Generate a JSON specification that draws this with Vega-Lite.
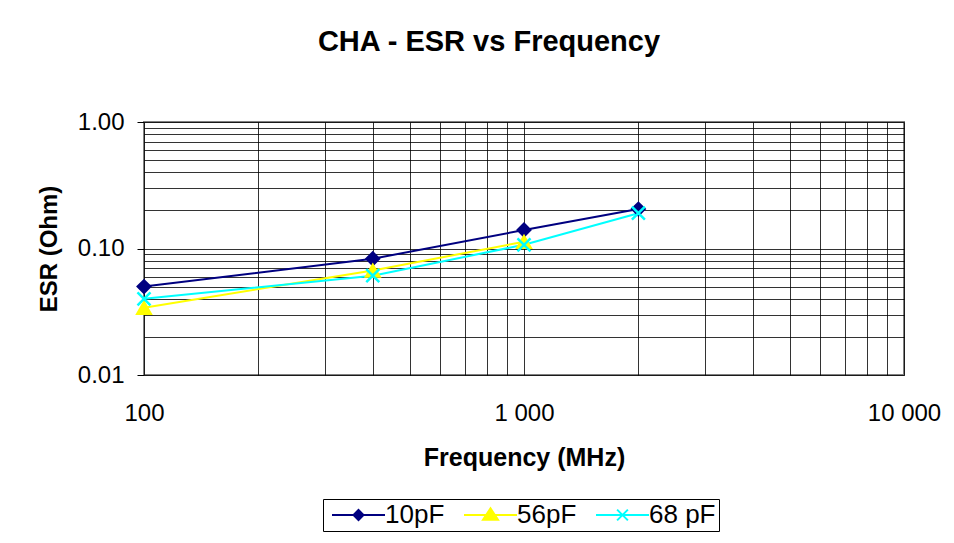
{
  "$schema": "https://vega.github.io/schema/vega-lite/v6.json",
  "width": 760,
  "height": 253,
  "autosize": {"type": "none"},
  "padding": {"left": 144, "top": 122, "right": 50, "bottom": 168},
  "background": "white",
  "config": {"font": "Liberation Sans", "view": {"stroke": "#808080", "strokeWidth": 2}},
  "title": {"text": "CHA - ESR vs Frequency", "fontSize": 29, "fontWeight": "bold", "font": "Liberation Sans", "color": "black", "anchor": "middle", "frame": "group", "baseline": "alphabetic", "offset": 30, "dx": -35},
  "data": {"values": [
    {"series": "10pF", "freq": 100, "esr": 0.050},
    {"series": "10pF", "freq": 400, "esr": 0.083},
    {"series": "10pF", "freq": 1000, "esr": 0.140},
    {"series": "10pF", "freq": 2000, "esr": 0.205},
    {"series": "56pF", "freq": 100, "esr": 0.034},
    {"series": "56pF", "freq": 400, "esr": 0.067},
    {"series": "56pF", "freq": 1000, "esr": 0.113},
    {"series": "68 pF", "freq": 100, "esr": 0.040},
    {"series": "68 pF", "freq": 400, "esr": 0.061},
    {"series": "68 pF", "freq": 1000, "esr": 0.107},
    {"series": "68 pF", "freq": 2000, "esr": 0.190}
  ]},
  "encoding": {
    "x": {"field": "freq", "type": "quantitative",
      "scale": {"type": "log", "domain": [100, 10000], "nice": false},
      "axis": {
        "values": [100, 200, 300, 400, 500, 600, 700, 800, 900, 1000, 2000, 3000, 4000, 5000, 6000, 7000, 8000, 9000, 10000],
        "labelExpr": "datum.value == 100 ? '100' : datum.value == 1000 ? '1 000' : datum.value == 10000 ? '10 000' : ''",
        "labelFontSize": 24, "labelColor": "black", "labelBaseline": "alphabetic", "labelPadding": 45,
        "labelFlush": false, "labelOverlap": false,
        "ticks": false, "tickSize": 0, "domain": false,
        "grid": true, "gridColor": "black", "gridOpacity": 0.8, "gridWidth": 1,
        "title": "Frequency (MHz)", "titleFontSize": 25, "titleFontWeight": "bold", "titleColor": "black",
        "titleBaseline": "alphabetic", "titleY": 90
      }
    },
    "y": {"field": "esr", "type": "quantitative",
      "scale": {"type": "log", "domain": [0.01, 1], "nice": false},
      "axis": {
        "values": [0.01, 0.02, 0.03, 0.04, 0.05, 0.06, 0.07, 0.08, 0.09, 0.1, 0.2, 0.3, 0.4, 0.5, 0.6, 0.7, 0.8, 0.9, 1],
        "labelExpr": "datum.value == 0.01 ? '0.01' : datum.value == 0.1 ? '0.10' : datum.value == 1 ? '1.00' : ''",
        "labelFontSize": 24, "labelColor": "black", "labelPadding": 13,
        "labelFlush": false, "labelOverlap": false,
        "tickSize": 7, "tickColor": "black",
        "tickOpacity": {"condition": {"test": "datum.value == 0.01 || datum.value == 0.1 || datum.value == 1", "value": 1}, "value": 0},
        "domain": false,
        "grid": true, "gridColor": "black", "gridOpacity": 0.8, "gridWidth": 1,
        "title": "ESR (Ohm)", "titleFontSize": 24, "titleFontWeight": "bold", "titleColor": "black",
        "titleBaseline": "alphabetic", "titleAngle": -90, "titleAlign": "center", "titleX": -88, "titleY": 126.5
      }
    }
  },
  "layer": [
    {"mark": {"type": "line", "strokeWidth": 2},
      "encoding": {
        "color": {"field": "series", "type": "nominal",
          "scale": {"domain": ["10pF", "56pF", "68 pF"], "range": ["#000080", "#FFFF00", "#00FFFF"]},
          "legend": {
            "orient": "none", "legendX": 179, "legendY": 377, "direction": "horizontal", "title": null,
            "strokeColor": "black", "padding": 3,
            "labelFontSize": 26, "labelFont": "Liberation Sans", "labelColor": "black",
            "symbolSize": 144, "symbolStrokeWidth": 2, "labelOffset": 33, "columnPadding": 13,
            "encode": {"symbols": {"update": {
              "shape": {"signal": "datum.value === '10pF' ? 'M-1.167,0L7.667,0M3.25,-0.83L4.08,0L3.25,0.83L2.42,0Z' : datum.value === '56pF' ? 'M-1.167,0L7.667,0M3.25,-1.1L4.5,0.8L2,0.8Z' : 'M-1.167,0L7.667,0M2.35,-0.9L4.15,0.9M2.35,0.9L4.15,-0.9'"},
              "fill": {"signal": "datum.value === '10pF' ? '#000080' : datum.value === '56pF' ? '#FFFF00' : '#00FFFF'"},
              "stroke": {"signal": "datum.value === '10pF' ? '#000080' : datum.value === '56pF' ? '#FFFF00' : '#00FFFF'"},
              "strokeWidth": {"value": 2},
              "opacity": {"value": 1},
              "fillOpacity": {"value": 1}
            }}}
          }
        }
      }
    },
    {"transform": [{"filter": "datum.series === '10pF'"}],
      "mark": {"type": "point", "shape": "diamond", "size": 169, "filled": true, "color": "#000080", "stroke": "#000080", "strokeWidth": 2, "opacity": 1}},
    {"transform": [{"filter": "datum.series === '56pF'"}],
      "mark": {"type": "point", "shape": "triangle-up", "size": 200, "filled": true, "color": "#FFFF00", "stroke": "#FFFF00", "strokeWidth": 2, "opacity": 1}},
    {"transform": [{"filter": "datum.series === '68 pF'"}],
      "mark": {"type": "point", "shape": "M-1,-1L1,1M-1,1L1,-1", "size": 169, "filled": false, "color": "#00FFFF", "stroke": "#00FFFF", "strokeWidth": 2.5, "opacity": 1}}
  ]
}
